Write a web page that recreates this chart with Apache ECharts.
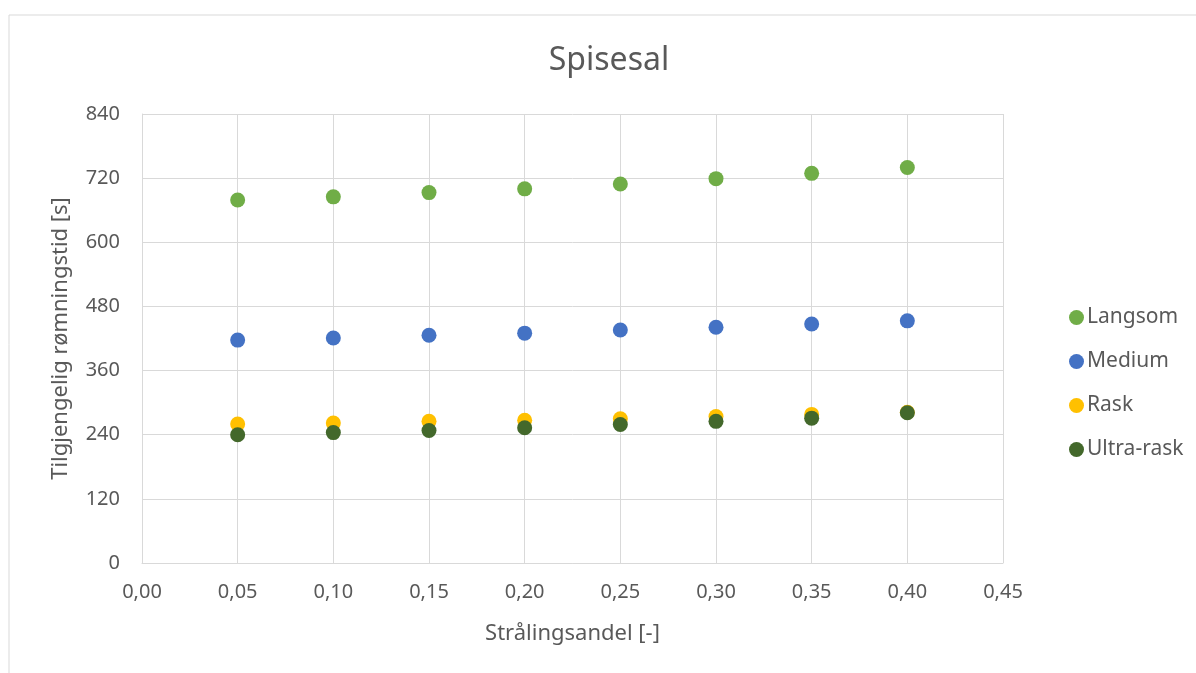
<!DOCTYPE html>
<html lang="no">
<head>
    <meta charset="UTF-8">
    <title>Spisesal</title>
    <style>
        html, body {margin: 0; padding: 0; background: #fff;}
    </style>
</head>
<body>
<div id="main" style="width: 1196px;height: 673px"></div>
</body>
<script src="https://cdn.jsdelivr.net/npm/echarts@6/dist/echarts.min.js"></script>
<script>
    // strålingsandel (x) og tilgjengelig rømningstid (y)
    const xValues = [0.05, 0.10, 0.15, 0.20, 0.25, 0.30, 0.35, 0.40]
    const seriesNames = ['Langsom', 'Medium', 'Rask', 'Ultra-rask']
    const langsom = [679, 685, 693, 700, 709, 719, 729, 740]
    const medium = [417, 421, 426, 430, 436, 441, 447, 453]
    const rask = [260, 262, 265, 267, 270, 274, 278, 282]
    const ultraRask = [240, 244, 248, 253, 259, 265, 271, 281]
    const colors = ['#70AD47', '#4472C4', '#FFC000', '#43682B']

    const FONT = 'Noto Sans'
    const TEXT = '#595959'

    function pairs(ys) {
        return xValues.map((x, i) => [x, ys[i]])
    }

    let chart = echarts.init(document.getElementById('main'))
    let allData = [langsom, medium, rask, ultraRask]

    let option = {
        animation: false,
        textStyle: {fontFamily: FONT},
        graphic: [{
            type: 'rect',
            shape: {x: 9, y: 15, width: 1200, height: 700},
            style: {fill: 'none', stroke: '#d9d9d9', lineWidth: 1}
        }],
        title: {
            text: 'Spisesal',
            left: 604,
            textAlign: 'center',
            top: 40,
            textStyle: {color: TEXT, fontSize: 32, fontWeight: 'normal', fontFamily: FONT}
        },
        legend: {
            orient: 'vertical',
            left: 1064,
            top: 302,
            itemWidth: 15,
            itemHeight: 15,
            itemGap: 23,
            icon: 'circle',
            data: seriesNames,
            textStyle: {color: TEXT, fontSize: 21, fontFamily: FONT, padding: [0, 0, 0, -2]}
        },
        grid: {
            left: 142,
            right: 193,
            top: 114,
            bottom: 110
        },
        xAxis: {
            type: 'value',
            min: 0,
            max: 0.45,
            interval: 0.05,
            name: 'Strålingsandel [-]',
            nameLocation: 'middle',
            nameGap: 60,
            nameTextStyle: {color: TEXT, fontSize: 22, fontFamily: FONT},
            axisLine: {show: true, lineStyle: {color: '#d9d9d9'}},
            axisTick: {show: false},
            axisLabel: {
                color: TEXT, fontSize: 20, margin: 19, fontFamily: FONT,
                formatter: v => v.toFixed(2).replace('.', ',')
            },
            splitLine: {show: true, lineStyle: {color: '#d9d9d9', width: 1}}
        },
        yAxis: {
            type: 'value',
            min: 0,
            max: 840,
            interval: 120,
            name: 'Tilgjengelig rømningstid [s]',
            nameLocation: 'middle',
            nameGap: 70,
            nameTextStyle: {color: TEXT, fontSize: 22, fontFamily: FONT},
            axisLine: {show: true, lineStyle: {color: '#d9d9d9'}},
            axisTick: {show: false},
            axisLabel: {color: TEXT, fontSize: 20, margin: 22, fontFamily: FONT},
            splitLine: {show: true, lineStyle: {color: '#d9d9d9', width: 1}}
        },
        series: seriesNames.map((name, i) => ({
            name: name,
            type: 'scatter',
            symbol: 'circle',
            symbolSize: 15,
            itemStyle: {color: colors[i], opacity: 1},
            data: pairs(allData[i])
        }))
    }
    chart.setOption(option)
</script>
</html>
